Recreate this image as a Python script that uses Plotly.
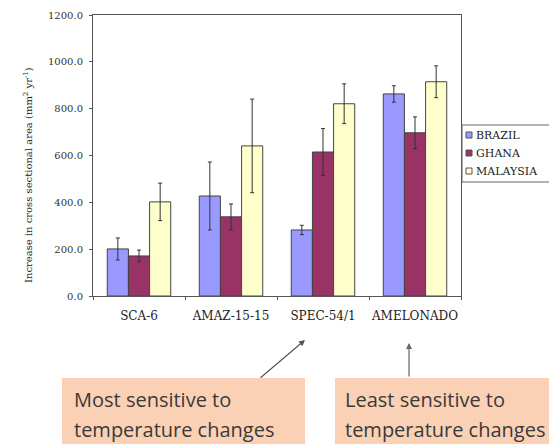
import plotly.graph_objects as go

categories = ["SCA-6", "AMAZ-15-15", "SPEC-54/1", "AMELONADO"]
series_names = ["BRAZIL", "GHANA", "MALAYSIA"]
brazil = [201, 427, 282, 863]
brazil_err = [47, 145, 20, 35]
ghana = [171, 338, 615, 697]
ghana_err = [25, 55, 100, 68]
malaysia = [402, 641, 821, 915]
malaysia_err = [80, 200, 85, 68]
y_ticks = [0, 200, 400, 600, 800, 1000, 1200]
y_title = "Increase in cross sectional area (mm<sup>2</sup> yr<sup>-1</sup>)"
note_left = ["Most sensitive to", "temperature changes"]
note_right = ["Least sensitive to", "temperature changes"]

colors = ["#9999FF", "#993366", "#FFFFCC"]
serif = "DejaVu Serif"
fig = go.Figure()
for name, vals, errs, col in zip(series_names, [brazil, ghana, malaysia],
                                 [brazil_err, ghana_err, malaysia_err], colors):
    fig.add_trace(go.Bar(
        x=categories, y=vals, name=name,
        marker=dict(color=col, line=dict(color="#444444", width=1)),
        error_y=dict(type="data", array=errs, visible=True, color="#333333",
                     thickness=1, width=2),
        hoverinfo="skip",
    ))

W, H = 549, 444
L, R, T, B = 93, 461, 15, 296
pw, ph = R - L, B - T

def px(x):
    return (x - L) / pw

def py(y):
    return (B - y) / ph

shapes = [
    dict(type="rect", xref="paper", yref="paper", x0=px(62), x1=px(305),
         y0=py(378), y1=py(446), fillcolor="#FAD1B5", line=dict(width=0), layer="below"),
    dict(type="rect", xref="paper", yref="paper", x0=px(335), x1=px(552),
         y0=py(378), y1=py(446), fillcolor="#FAD1B5", line=dict(width=0), layer="below"),
    # legend box
    dict(type="rect", xref="paper", yref="paper", x0=px(462), x1=px(560),
         y0=py(125), y1=py(182), fillcolor="white", line=dict(color="#666666", width=1)),
]

annotations = [
    dict(xref="paper", yref="paper", x=px(28), y=py(175), xanchor="center", yanchor="middle",
         text=y_title, textangle=-90, showarrow=False,
         font=dict(family=serif, size=10, color="#222222")),
]
for i, (name, col) in enumerate(zip(series_names, colors)):
    cy = 135 + 18 * i
    shapes.append(dict(type="rect", xref="paper", yref="paper",
                       x0=px(466), x1=px(472), y0=py(cy - 3), y1=py(cy + 3),
                       fillcolor=col, line=dict(color="#555555", width=1)))
    annotations.append(dict(xref="paper", yref="paper", x=px(474), y=py(cy),
                            xanchor="left", yanchor="middle", text=name, showarrow=False,
                            font=dict(family=serif, size=11, color="#222222")))

for lines, x0 in [(note_left, 72), (note_right, 343)]:
    for j, line in enumerate(lines):
        annotations.append(dict(xref="paper", yref="paper", x=px(x0), y=py(399 + 30 * j),
                                xanchor="left", yanchor="middle", text=line, showarrow=False,
                                font=dict(family="Open Sans", size=20, color="#3a3a3a")))

annotations += [
    dict(xref="paper", yref="paper", x=px(305), y=py(340), ax=-46, ay=39, text="",
         showarrow=True, arrowhead=2, arrowsize=1, arrowwidth=1.2, arrowcolor="#555555"),
    dict(xref="paper", yref="paper", x=px(409), y=py(343), ax=0, ay=35, text="",
         showarrow=True, arrowhead=2, arrowsize=1, arrowwidth=1.2, arrowcolor="#666666"),
]

fig.update_layout(
    width=W, height=H,
    margin=dict(l=L, r=W - R, t=T, b=H - B, autoexpand=False),
    paper_bgcolor="white", plot_bgcolor="white",
    barmode="group", bargap=0.31, bargroupgap=0,
    font=dict(family=serif, size=10, color="#222222"),
    showlegend=False,
    xaxis=dict(showline=True, linecolor="#555555", linewidth=1, mirror=True,
               ticks="outside", tickson="boundaries", ticklen=3, tickcolor="#555555",
               tickangle=0, ticklabelstandoff=9,
               tickfont=dict(family=serif, size=12, color="#222222")),
    yaxis=dict(range=[0, 1200], tickvals=y_ticks, tickformat=".1f",
               showline=True, linecolor="#555555", linewidth=1, mirror=True,
               ticks="outside", ticklen=3, tickcolor="#555555", showgrid=False,
               zeroline=False, ticklabelstandoff=4,
               tickfont=dict(family=serif, size=10, color="#333333")),
    shapes=shapes,
    annotations=annotations,
)

fig.write_html("out.html", config={"displayModeBar": False},
               post_script="document.body.style.margin='0';document.body.style.overflow='hidden';")
